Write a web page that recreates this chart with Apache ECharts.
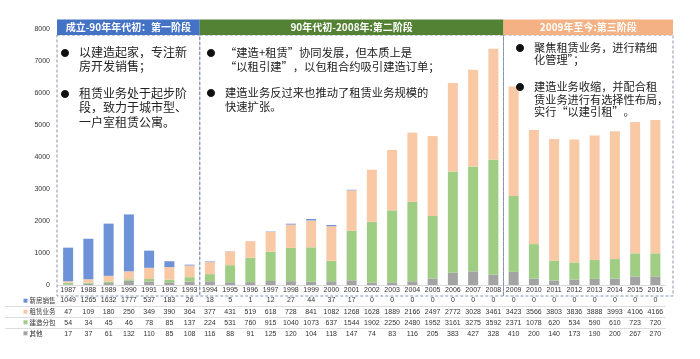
<!DOCTYPE html>
<html>
<head>
<meta charset="utf-8">
<script src="https://cdn.jsdelivr.net/npm/echarts@6/dist/echarts.min.js"></script>
<style>html,body{margin:0;padding:0;background:#fff;}#c{width:700px;height:359px;}</style>
</head>
<body>
<div id="c"></div>
<script>
const years = ['1987','1988','1989','1990','1991','1992','1993','1994','1995','1996','1997','1998','1999','2000','2001','2002','2003','2004','2005','2006','2007','2008','2009','2010','2011','2012','2013','2014','2015','2016'];
const seriesNames = ['新房销售','租赁业务','建造分包','其他'];
const newHouse = [1049,1265,1632,1777,537,183,26,18,5,1,12,27,44,37,17,0,0,0,0,0,0,0,0,0,0,0,0,0,0,0];
const leasing = [47,109,180,250,349,390,364,377,431,519,618,728,841,1082,1268,1628,1889,2166,2497,2772,3028,3461,3423,3566,3803,3836,3888,3993,4106,4166];
const construction = [54,34,45,46,78,85,137,224,531,760,915,1040,1073,637,1544,1902,2250,2480,1952,3161,3275,3592,2371,1078,620,534,590,610,723,720];
const other = [17,37,61,132,110,85,108,116,88,91,125,120,104,118,147,74,83,116,205,383,427,328,410,200,140,173,190,200,267,270];
const yTicks = [0,1000,2000,3000,4000,5000,6000,7000,8000];
const phaseTitles = ['成立-90年年代初：第一阶段','90年代初-2008年:第二阶段','2009年至今:第三阶段'];
const phaseStarts = [0,7,22];
const phaseTexts = [
  ['以建造起家，专注新\n房开发销售；','租赁业务处于起步阶\n段，致力于城市型、\n一户室租赁公寓。'],
  ['“建造+租赁”协同发展，但本质上是\n“以租引建”，以包租合约吸引建造订单；','建造业务反过来也推动了租赁业务规模的\n快速扩张。'],
  ['聚焦租赁业务，进行精细\n化管理”；','建造业务收缩，并配合租\n赁业务进行有选择性布局，\n实行“以建引租”。']
];

const colors = {'新房销售':'#6E92D8','租赁业务':'#F9C9A6','建造分包':'#9FCD84','其他':'#A3A3A3'};
const headerColors = ['#4472C4','#548235','#F4B183'];
const rowData = [newHouse, leasing, construction, other];

const GL = 58, GR = 34.5, GT = 29, GB = 74;
const W = 700, H = 359;
const plotW = W - GL - GR;
const bw = plotW / years.length;
const numFont = 'Liberation Sans, Arial, sans-serif';
const cjk = '"Noto Sans CJK SC", sans-serif';

const chart = echarts.init(document.getElementById('c'), null, {renderer:'canvas'});

const xAxes = [{
  type:'category', data: years, gridIndex:0, position:'bottom',
  axisLine:{show:true, lineStyle:{color:'#d0d0d0', width:0.8}},
  axisTick:{show:false},
  axisLabel:{interval:0, fontSize:7, color:'#333', margin:1.5, fontFamily:numFont}
}];
const rowOffsets = [10, 21.5, 32.5, 43.5];
rowData.forEach((arr, i) => {
  xAxes.push({
    type:'category', data: arr.map(v => String(v)), gridIndex:0, position:'bottom',
    offset: rowOffsets[i],
    axisLine:{show:false}, axisTick:{show:false}, splitLine:{show:false},
    axisLabel:{interval:0, fontSize:7, color:'#333', margin:2, fontFamily:numFont}
  });
});

const order = ['其他','建造分包','租赁业务','新房销售'];
const dataMap = {'新房销售':newHouse,'租赁业务':leasing,'建造分包':construction,'其他':other};
const series = order.map(n => ({
  name:n, type:'bar', stack:'total', xAxisIndex:0, barWidth:10,
  itemStyle:{color:colors[n]}, data:dataMap[n]
}));

const graphic = [];
const xEdge = [GL + phaseStarts[0]*bw - 1, GL + phaseStarts[1]*bw, GL + phaseStarts[2]*bw, 673];
for (let p = 0; p < 3; p++) {
  const x0 = xEdge[p], x1 = xEdge[p+1];
  graphic.push({type:'rect', shape:{x:x0, y:35, width:x1-x0, height:261},
    style:{fill:'none', stroke:'#8494aa', lineWidth:1, lineDash:[3,2]}, z:1});
  graphic.push({type:'rect', shape:{x:x0, y:19.5, width:x1-x0, height:15.5},
    style:{fill:headerColors[p]}, z:2});
  graphic.push({type:'text', x:(x0+x1)/2, y:27.5,
    style:{text:phaseTitles[p], fill:'#fff', font:'bold 10px ' + cjk, align:'center', verticalAlign:'middle'}, z:3});
}
const textPos = [
  {bx:65, tx:79, ys:[45, 86]},
  {bx:211, tx:225, ys:[46, 86]},
  {bx:520, tx:534, ys:[41, 80.5]}
];
const lineH = [14.5, 14, 12.5];
const fSize = [12, 11.3, 11.2];
for (let p = 0; p < 3; p++) {
  phaseTexts[p].forEach((t, k) => {
    const y = textPos[p].ys[k];
    graphic.push({type:'text', x:textPos[p].bx, y:y + lineH[p]/2,
      style:{text:'●', fill:'#111', font:'9px ' + cjk, align:'center', verticalAlign:'middle'}, z:3});
    graphic.push({type:'text', x:textPos[p].tx, y:y,
      style:{text:t, fill:'#222', font:fSize[p] + 'px ' + cjk, lineHeight:lineH[p], verticalAlign:'top'}, z:3});
  });
}
[306.5, 317.5, 328.5].forEach(y => {
  graphic.push({type:'line', shape:{x1:5, y1:y, x2:GL+plotW, y2:y},
    style:{stroke:'#cfcfcf', lineWidth:0.7}, z:1});
});
const rowCenters = [300.7, 311.7, 322.3, 333.3];
seriesNames.forEach((n, i) => {
  graphic.push({type:'rect', shape:{x:23.5, y:rowCenters[i]-2, width:4, height:4},
    style:{fill:colors[n]}, z:3});
  graphic.push({type:'text', x:29.5, y:rowCenters[i],
    style:{text:n, fill:'#333', font:'6.5px ' + cjk, verticalAlign:'middle'}, z:3});
});

chart.setOption({
  animation:false,
  backgroundColor:'#fff',
  grid:{left:GL, right:GR, top:GT, bottom:GB, containLabel:false},
  xAxis: xAxes,
  yAxis:{type:'value', min:yTicks[0], max:yTicks[yTicks.length-1], interval:1000,
    axisLine:{show:false}, axisTick:{show:false}, splitLine:{show:false},
    axisLabel:{fontSize:7, color:'#333', margin:8, fontFamily:numFont, formatter: v => String(v)}},
  series: series,
  graphic: graphic
});
</script>
</body>
</html>
